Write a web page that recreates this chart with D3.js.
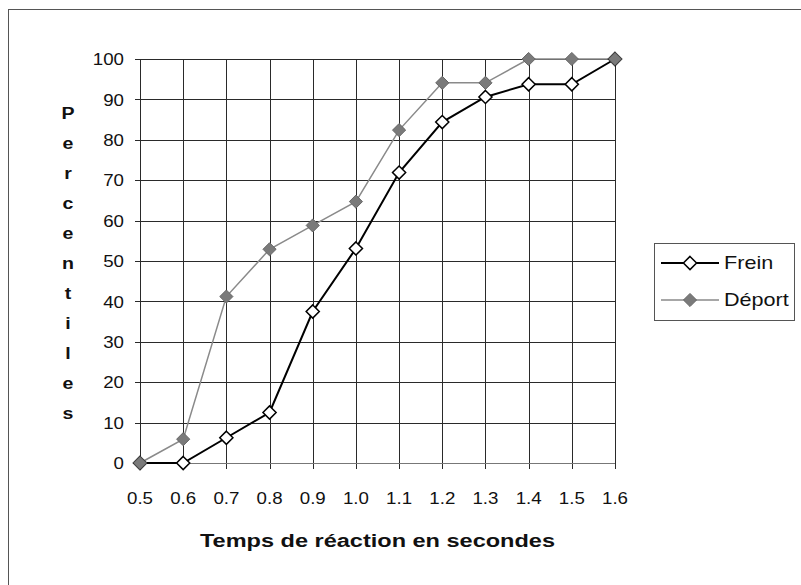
<!DOCTYPE html>
<html>
<head>
<meta charset="utf-8">
<script src="https://cdn.jsdelivr.net/npm/d3@7"></script>
<style>
  body { margin: 0; background: #fff; }
  svg { display: block; font-family: "Liberation Sans", Arial, sans-serif; }
</style>
</head>
<body>
<div id="chart"></div>
<script>
// temps de réaction (s)
var temps = [0.5, 0.6, 0.7, 0.8, 0.9, 1.0, 1.1, 1.2, 1.3, 1.4, 1.5, 1.6];
var frein = [0, 0, 6.25, 12.5, 37.5, 53.1, 71.9, 84.4, 90.6, 93.75, 93.75, 100];
var deport = [0, 5.9, 41.2, 52.9, 58.8, 64.7, 82.4, 94.1, 94.1, 100, 100, 100];
var yTicks = [0, 10, 20, 30, 40, 50, 60, 70, 80, 90, 100];
var series = [
  { name: 'Frein', values: frein },
  { name: 'Déport', values: deport }
];

var width = 801, height = 585;

var svg = d3.select('#chart')
  .append('svg')
  .attr('width', width)
  .attr('height', height);

// cadre extérieur (coupé à droite et en bas)
svg.append('rect')
  .attr('x', 8.5).attr('y', 9.5)
  .attr('width', 820).attr('height', 600)
  .attr('fill', 'none')
  .attr('stroke', '#555')
  .attr('stroke-width', 1);

var x = d3.scaleLinear().domain([0.5, 1.6]).range([140, 615]);
var y = d3.scaleLinear().domain([0, 100]).range([463, 59]);

// le scan est un peu étiré en largeur
var stretch = 1.1;

// grille
svg.append('g')
  .selectAll('line')
  .data(temps)
  .enter().append('line')
  .attr('x1', d => Math.round(x(d)) + 0.5)
  .attr('x2', d => Math.round(x(d)) + 0.5)
  .attr('y1', y(100))
  .attr('y2', y(0) + 6)
  .attr('stroke', '#2a2a2a');

svg.append('g')
  .selectAll('line')
  .data(yTicks)
  .enter().append('line')
  .attr('x1', x(0.5) - 5)
  .attr('x2', x(1.6))
  .attr('y1', d => Math.round(y(d)) + 0.5)
  .attr('y2', d => Math.round(y(d)) + 0.5)
  .attr('stroke', d => d === 0 ? '#777' : '#2a2a2a');

// étiquettes des axes
svg.append('g')
  .selectAll('text')
  .data(yTicks)
  .enter().append('text')
  .attr('transform', d => `translate(124,${y(d)}) scale(${stretch},1)`)
  .attr('dy', '0.36em')
  .attr('text-anchor', 'end')
  .attr('font-size', 17)
  .attr('fill', '#111')
  .text(d => d);

svg.append('g')
  .selectAll('text')
  .data(temps)
  .enter().append('text')
  .attr('transform', d => `translate(${x(d)},504) scale(${stretch},1)`)
  .attr('text-anchor', 'middle')
  .attr('font-size', 17)
  .attr('fill', '#111')
  .text(d => d3.format('.1f')(d));

svg.append('text')
  .attr('x', 200)
  .attr('y', 547)
  .attr('textLength', 355)
  .attr('lengthAdjust', 'spacingAndGlyphs')
  .attr('font-size', 17.5)
  .attr('font-weight', 'bold')
  .attr('fill', '#111')
  .text('Temps de réaction en secondes');

// titre vertical lettre par lettre
svg.append('g')
  .selectAll('text')
  .data('Percentiles'.split(''))
  .enter().append('text')
  .attr('transform', (d, i) => `translate(68,${113 + i * 30}) scale(1.15,1)`)
  .attr('dy', '0.36em')
  .attr('text-anchor', 'middle')
  .attr('font-size', 17)
  .attr('font-weight', 'bold')
  .attr('fill', '#111')
  .text(d => d);

// courbes
var line = d3.line()
  .x((d, i) => x(temps[i]))
  .y(d => y(d));

var diamond = d3.symbol().type(d3.symbolDiamond2).size(110);

function drawMarker(g, name) {
  if (name === 'Frein') {
    g.attr('d', diamond).attr('fill', '#fff').attr('stroke', '#000').attr('stroke-width', 1.5);
  } else {
    g.attr('d', diamond).attr('fill', '#7a7a7a').attr('stroke', '#666').attr('stroke-width', 1);
  }
}

series.forEach(function(s) {
  svg.append('path')
    .datum(s.values)
    .attr('fill', 'none')
    .attr('stroke', s.name === 'Frein' ? '#000' : '#8a8a8a')
    .attr('stroke-width', s.name === 'Frein' ? 2 : 1.5)
    .attr('d', line);
});

series.forEach(function(s) {
  svg.append('g')
    .selectAll('path')
    .data(s.values)
    .enter().append('path')
    .attr('transform', (d, i) => `translate(${x(temps[i])},${y(d)})`)
    .call(drawMarker, s.name);
});

// légende
var legend = svg.append('g');
legend.append('rect')
  .attr('x', 654.5).attr('y', 243.5)
  .attr('width', 140).attr('height', 77)
  .attr('fill', '#fff')
  .attr('stroke', '#555');

var item = legend.selectAll('g')
  .data(series)
  .enter().append('g')
  .attr('transform', (d, i) => `translate(0,${263 + i * 37})`);

item.append('line')
  .attr('x1', 661).attr('x2', 719)
  .attr('stroke', d => d.name === 'Frein' ? '#000' : '#8a8a8a')
  .attr('stroke-width', d => d.name === 'Frein' ? 2 : 1.5);

item.append('path')
  .attr('transform', 'translate(690,0)')
  .each(function(d) { d3.select(this).call(drawMarker, d.name); });

item.append('text')
  .attr('transform', `translate(724,0) scale(1.2,1)`)
  .attr('dy', '0.36em')
  .attr('font-size', 18)
  .attr('fill', '#111')
  .text(d => d.name);
</script>
</body>
</html>
